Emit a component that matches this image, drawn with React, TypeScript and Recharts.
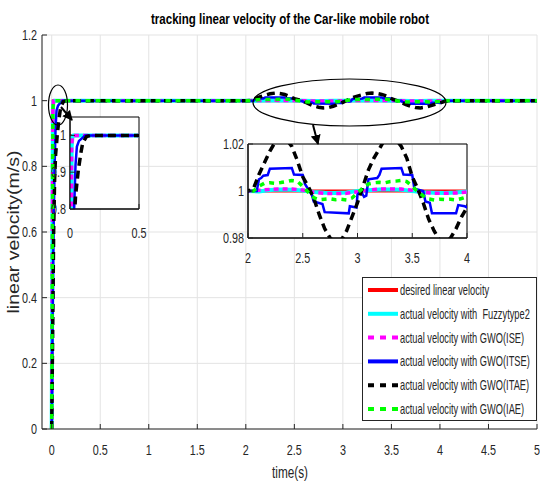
import { CartesianGrid, Legend, Line, LineChart, ReferenceArea, XAxis, YAxis } from "recharts"

// tick values
const xTicksMain = [0, 0.5, 1, 1.5, 2, 2.5, 3, 3.5, 4, 4.5, 5]
const yTicksMain = [0, 0.2, 0.4, 0.6, 0.8, 1, 1.2]
const xTicksStart = [0, 0.5]
const yTicksStart = [0.8, 0.9, 1]
const xTicksWave = [2, 2.5, 3, 3.5, 4]
const yTicksWave = [0.98, 1, 1.02]

// desired velocity
const redTime = [0, 5]
const redVel = [1, 1]

// Fuzzy type2 and GWO(ISE) share sample times
const smoothTime = [0, 0.012, 0.018, 0.025, 2, 2.1, 2.2, 2.3, 2.4, 2.5, 2.6, 2.7, 2.8, 2.9, 3, 3.1, 3.2, 3.3, 3.4, 3.5, 3.6, 3.7, 3.8, 3.9, 4, 4.1, 5]
const cyanVel = [0, 0.97, 0.998, 1, 1, 0.9998, 1.0004, 1.0006, 1.0005, 1.0002, 0.9996, 0.9993, 0.9992, 0.9994, 1, 1.0003, 1.0006, 1.0006, 1.0005, 1, 0.9995, 0.9993, 0.9992, 0.9994, 0.9998, 1, 1]
const pinkVel = [0, 0.97, 0.998, 1, 1, 1.0003, 1.0007, 1.0009, 1.0008, 1.0004, 0.9995, 0.999, 0.9989, 0.999, 0.9997, 1.0004, 1.0008, 1.0009, 1.0008, 1.0003, 0.9995, 0.999, 0.999, 0.9992, 0.9996, 1, 1]

// GWO(ITSE), staircase shape
const blueTime = [0, 0.01, 0.02, 0.03, 0.04, 0.05, 0.065, 0.08, 0.11, 2, 2.08, 2.1, 2.12, 2.14, 2.18, 2.2, 2.4, 2.42, 2.5, 2.52, 2.56, 2.58, 2.6, 2.68, 2.7, 2.92, 2.93, 2.99, 3, 3.03, 3.06, 3.08, 3.1, 3.18, 3.2, 3.22, 3.4, 3.42, 3.5, 3.52, 3.6, 3.62, 3.66, 3.68, 3.9, 3.92, 3.98, 4, 4.05, 4.1, 5]
const blueVel = [0, 0.35, 0.62, 0.8, 0.92, 0.97, 0.985, 0.99, 1, 1, 1, 1.005, 1.0055, 1.0065, 1.0068, 1.0095, 1.0098, 1.007, 1.0068, 1.003, 1, 0.999, 0.9955, 0.9945, 0.991, 0.9905, 0.9935, 0.993, 0.9985, 1, 0.9975, 0.998, 1.005, 1.0055, 1.0068, 1.0095, 1.0098, 1.007, 1.0068, 1.001, 1, 0.9955, 0.995, 0.9905, 0.9905, 0.994, 0.9935, 0.993, 0.998, 1, 1]

// GWO(ITAE) start-up
const blackRiseTime = [0, 0.01, 0.02, 0.03, 0.04, 0.05, 0.06, 0.07, 0.08, 0.09, 0.1, 0.12, 0.15]
const blackRiseVel = [0, 0.3, 0.6, 0.76, 0.835, 0.87, 0.905, 0.93, 0.955, 0.975, 0.985, 0.997, 1]

// GWO(IAE) start-up
const greenRiseTime = [0, 0.012, 0.018, 0.025]
const greenRiseVel = [0, 0.97, 0.998, 1]

// 2s..4.1s disturbance window
const waveTime = [2, 2.05, 2.1, 2.15, 2.2, 2.25, 2.3, 2.35, 2.4, 2.45, 2.5, 2.55, 2.6, 2.65, 2.7, 2.75, 2.8, 2.85, 2.9, 2.95, 3, 3.05, 3.1, 3.15, 3.2, 3.25, 3.3, 3.35, 3.4, 3.45, 3.5, 3.55, 3.6, 3.65, 3.7, 3.75, 3.8, 3.85, 3.9, 3.95, 4, 4.05, 4.1]
const blackWave = [1, 1.001, 1.007, 1.012, 1.017, 1.021, 1.023, 1.022, 1.019, 1.013, 1.006, 1.002, 0.997, 0.99, 0.984, 0.98, 0.978, 0.979, 0.983, 0.989, 0.995, 1.002, 1.009, 1.014, 1.018, 1.022, 1.023, 1.022, 1.019, 1.014, 1.006, 1.001, 0.995, 0.988, 0.983, 0.979, 0.978, 0.98, 0.984, 0.989, 0.993, 0.998, 1]
const greenWave = [1, 1, 1.002, 1.0033, 1.0035, 1.0033, 1.0036, 1.004, 1.0045, 1.0042, 1.002, 0.9995, 0.9972, 0.9963, 0.9965, 0.9967, 0.9963, 0.9965, 0.9962, 0.997, 0.9992, 1.0012, 1.003, 1.0035, 1.0037, 1.0035, 1.004, 1.0042, 1.0045, 1.004, 1.002, 0.9998, 0.998, 0.9966, 0.9962, 0.9965, 0.9963, 0.9965, 0.9962, 0.9968, 0.9975, 0.999, 1]

const zip = (t: number[], v: number[]) => t.map((time, i) => ({ t: time, v: v[i] }))

const SERIES = [
  { key: "red", name: "desired linear velocity", color: "#ff0000", width: 3, dash: "", data: zip(redTime, redVel) },
  { key: "cyan", name: "actual velocity with  Fuzzytype2", color: "#00ffff", width: 4, dash: "", data: zip(smoothTime, cyanVel) },
  { key: "pink", name: "actual velocity with GWO(ISE)", color: "#ff00ff", width: 3.5, dash: "5 4", data: zip(smoothTime, pinkVel) },
  { key: "blue", name: "actual velocity with GWO(ITSE)", color: "#0000ff", width: 2.5, dash: "", data: zip(blueTime, blueVel) },
  { key: "black", name: "actual velocity with GWO(ITAE)", color: "#000000", width: 3.5, dash: "8 5", data: zip([...blackRiseTime, ...waveTime, 5], [...blackRiseVel, ...blackWave, 1]) },
  { key: "green", name: "actual velocity with GWO(IAE)", color: "#00ff00", width: 3.5, dash: "5 5", data: zip([...greenRiseTime, ...waveTime, 5], [...greenRiseVel, ...greenWave, 1]) },
]

const FONT = "'Liberation Sans', Arial, sans-serif"
const INK = "#262626"

function NarrowText({ x, y, anchor = "middle", size = 15, squeeze = 0.72, children }: any) {
  return (
    <text
      transform={`translate(${x},${y}) scale(${squeeze},1)`}
      textAnchor={anchor}
      fontSize={size}
      fontFamily={FONT}
      fill={INK}
      style={{ whiteSpace: "pre" }}
    >
      {children}
    </text>
  )
}

// MATLAB style ticks point inward
const xTick = (axisY: number, labelY: number) => (props: any) => (
  <g>
    <line x1={props.x} x2={props.x} y1={axisY} y2={axisY - 5} stroke={INK} />
    <NarrowText x={props.x} y={labelY}>{String(props.payload.value)}</NarrowText>
  </g>
)

const yTick = (axisX: number, labelX: number) => (props: any) => (
  <g>
    <line x1={axisX} x2={axisX + 5} y1={props.y} y2={props.y} stroke={INK} />
    <NarrowText x={labelX} y={props.y + 5} anchor="end">{String(props.payload.value)}</NarrowText>
  </g>
)

function LegendBox() {
  return (
    <svg width={176} height={145} style={{ display: "block" }}>
      <rect x={0.5} y={0.5} width={174} height={143} fill="#fff" stroke={INK} />
      {SERIES.map((s, i) => {
        const y = 13 + i * 23.8
        return (
          <g key={s.key}>
            <line x1={6} x2={36} y1={y} y2={y} stroke={s.color} strokeWidth={4} strokeDasharray={s.dash ? "6 6" : undefined} />
            <NarrowText x={38} y={y + 5} anchor="start" size={14} squeeze={0.663}>
              {s.name}
            </NarrowText>
          </g>
        )
      })}
    </svg>
  )
}

function seriesLines(keys: string[]) {
  return SERIES.filter((s) => keys.includes(s.key)).map((s) => (
    <Line
      key={s.key}
      data={s.data}
      dataKey="v"
      type="linear"
      stroke={s.color}
      strokeWidth={s.width}
      strokeDasharray={s.dash || undefined}
      dot={false}
      activeDot={false}
      isAnimationActive={false}
    />
  ))
}

export default function App() {
  return (
    <div style={{ position: "absolute", left: 0, top: 0, width: 540, height: 488, background: "#fff", overflow: "hidden" }}>
      <LineChart width={540} height={488} margin={{ top: 35, right: 3, bottom: 30, left: 0 }}>
        <CartesianGrid stroke="#e3e3e3" />
        <XAxis
          type="number"
          dataKey="t"
          domain={[-0.1, 5]}
          ticks={xTicksMain}
          interval={0}
          allowDataOverflow
          height={29}
          axisLine={{ stroke: INK }}
          tickLine={false}
          tick={xTick(429, 455)}
        />
        <YAxis
          type="number"
          domain={[0, 1.2]}
          ticks={yTicksMain}
          interval={0}
          allowDataOverflow
          width={42}
          axisLine={{ stroke: INK }}
          tickLine={false}
          tick={yTick(42, 37)}
        />
        {seriesLines(["red", "cyan", "pink", "blue", "black", "green"])}
        <Legend
          content={() => <LegendBox />}
          layout="vertical"
          align="center"
          verticalAlign="middle"
          wrapperStyle={{ left: 362, top: 277, width: 176, height: 145 }}
        />
      </LineChart>

      {/* zoom on the start-up */}
      <div style={{ position: "absolute", left: 30, top: 107 }}>
        <LineChart width={130} height={140} margin={{ top: 10, right: 21, bottom: 8, left: 0 }}>
          <CartesianGrid fill="#fff" horizontal={false} vertical={false} />
          <XAxis
            type="number"
            dataKey="t"
            domain={[0, 0.5]}
            ticks={xTicksStart}
            interval={0}
            allowDataOverflow
            height={30}
            axisLine={{ stroke: "#000" }}
            tickLine={false}
            tick={xTick(102, 131)}
          />
          <YAxis
            type="number"
            domain={[0.8, 1.05]}
            ticks={yTicksStart}
            interval={0}
            allowDataOverflow
            width={40}
            axisLine={{ stroke: "#000" }}
            tickLine={false}
            tick={yTick(40, 36)}
          />
          {seriesLines(["red", "cyan", "pink", "blue", "black"])}
          <ReferenceArea x1={0} x2={0.5} y1={0.8} y2={1.05} fill="none" stroke="#000" strokeWidth={1} />
        </LineChart>
      </div>

      {/* zoom on the 2s..4s window */}
      <div style={{ position: "absolute", left: 208, top: 134 }}>
        <LineChart width={264} height={140} margin={{ top: 10, right: 5, bottom: 6, left: 0 }}>
          <CartesianGrid fill="#fff" stroke="#e3e3e3" />
          <XAxis
            type="number"
            dataKey="t"
            domain={[2, 4]}
            ticks={xTicksWave}
            interval={0}
            allowDataOverflow
            height={30}
            axisLine={{ stroke: "#000" }}
            tickLine={false}
            tick={xTick(104, 129)}
          />
          <YAxis
            type="number"
            domain={[0.98, 1.02]}
            ticks={yTicksWave}
            interval={0}
            allowDataOverflow
            width={40}
            axisLine={{ stroke: "#000" }}
            tickLine={false}
            tick={yTick(40, 36)}
          />
          {seriesLines(["red", "cyan", "pink", "blue", "black", "green"])}
          <ReferenceArea x1={2} x2={4} y1={0.98} y2={1.02} fill="none" stroke="#000" strokeWidth={1} />
        </LineChart>
      </div>

      {/* title, axis titles and callouts */}
      <svg width={540} height={488} style={{ position: "absolute", left: 0, top: 0, pointerEvents: "none" }}>
        <defs>
          <marker id="arrowHead" viewBox="0 0 10 10" refX="9" refY="5" markerWidth="5" markerHeight="5" orient="auto">
            <path d="M0,0 L10,5 L0,10 z" fill="#000" />
          </marker>
        </defs>
        <text x={290} y={24} textAnchor="middle" fontFamily={FONT} fontWeight="bold" fontSize={15} fill="#000" textLength={278} lengthAdjust="spacingAndGlyphs">
          tracking linear velocity of the Car-like mobile robot
        </text>
        <text x={290} y={478} textAnchor="middle" fontFamily={FONT} fontSize={16} fill={INK} textLength={36} lengthAdjust="spacingAndGlyphs">
          time(s)
        </text>
        <text transform="translate(19,232) rotate(-90)" textAnchor="middle" fontFamily={FONT} fontSize={16} fill={INK} textLength={163} lengthAdjust="spacingAndGlyphs">
          linear velocity(m/s)
        </text>
        <ellipse cx={58} cy={105} rx={9.5} ry={20} fill="none" stroke="#000" strokeWidth={1.2} />
        <line x1={61} y1={107} x2={72} y2={120} stroke="#000" strokeWidth={2} markerEnd="url(#arrowHead)" />
        <ellipse cx={349.5} cy={102.5} rx={96.5} ry={23.5} fill="none" stroke="#000" strokeWidth={1.2} />
        <line x1={313} y1={125} x2={318} y2={144} stroke="#000" strokeWidth={2} markerEnd="url(#arrowHead)" />
      </svg>
    </div>
  )
}
